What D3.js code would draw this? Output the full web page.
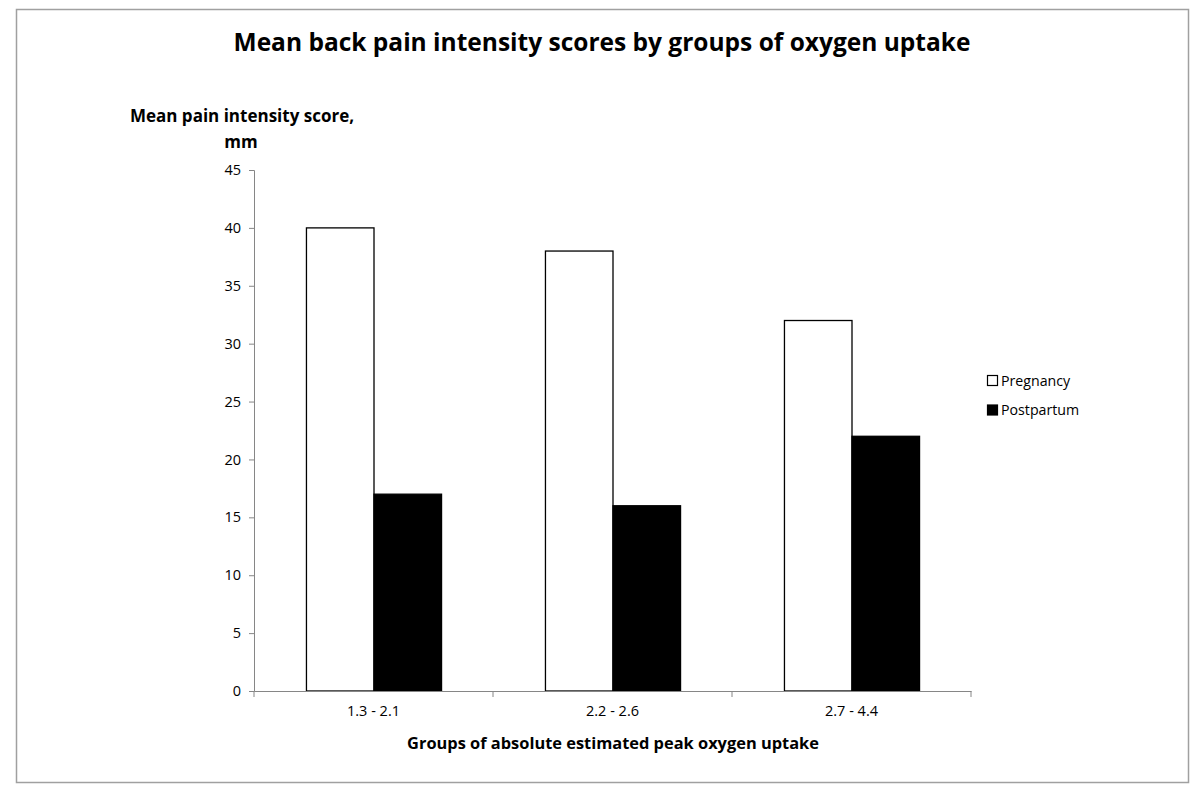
<!DOCTYPE html>
<html><head><meta charset="utf-8">
<script src="https://cdn.jsdelivr.net/npm/d3@7"></script>
<style>body{margin:0;background:#fff;} text{font-family:"Open Sans","Liberation Sans",sans-serif;}</style>
</head><body>
<svg id="c" width="1200" height="796"></svg>
<script>
const categories = ["1.3 - 2.1", "2.2 - 2.6", "2.7 - 4.4"];
const seriesNames = ["Pregnancy", "Postpartum"];
const pregnancy = [40, 38, 32];
const postpartum = [17, 16, 22];
const yTicks = [0, 5, 10, 15, 20, 25, 30, 35, 40, 45];

const svg = d3.select("#c");
svg.append("rect").attr("x",16.5).attr("y",9.5).attr("width",1172).attr("height",773)
  .attr("fill","#fff").attr("stroke","#a0a0a0").attr("stroke-width",1.5);

const x = d3.scaleBand().domain(categories).range([254, 971]).paddingInner(0).paddingOuter(0);
const xs = d3.scaleBand().domain(seriesNames).range([0, x.bandwidth()]).paddingInner(0).paddingOuter(0.7692);
const y = d3.scaleLinear().domain([0, 45]).range([691, 170]);
const fills = {Pregnancy:"#fff", Postpartum:"#000"};

const data = categories.map((c,i)=>({cat:c, vals:[{s:"Pregnancy",v:pregnancy[i]},{s:"Postpartum",v:postpartum[i]}]}));

svg.append("text").attr("x",602).attr("y",51).attr("text-anchor","middle")
  .attr("font-size",24.5).attr("font-weight","bold").text("Mean back pain intensity scores by groups of oxygen uptake");

// y axis
const yAxis = svg.append("g").attr("transform","translate(254,0)")
  .call(d3.axisLeft(y).tickValues(yTicks).tickSize(5).tickPadding(8));
yAxis.selectAll("path,line").attr("stroke","#868686");
yAxis.selectAll("text").attr("font-size",14.5).attr("fill","#000").style("font-family","'Open Sans',sans-serif");

// bars
const g = svg.append("g");
data.forEach(d=>{
  g.selectAll(null).data(d.vals).enter().append("rect")
    .attr("x",v=>x(d.cat)+xs(v.s)+0.5)
    .attr("y",v=>y(v.v))
    .attr("width",xs.bandwidth())
    .attr("height",v=>y(0)-y(v.v))
    .attr("fill",v=>fills[v.s]).attr("stroke","#000").attr("stroke-width",1.3);
});

// x axis
const xAxis = svg.append("g").attr("transform","translate(0,691)")
  .call(d3.axisBottom(x).tickSize(0).tickPadding(15));
xAxis.select("path").attr("stroke","#868686");
xAxis.selectAll("text").attr("font-size",14.5).attr("fill","#000").style("font-family","'Open Sans',sans-serif");
const edges = categories.map(c=>x(c)).concat([x(categories[categories.length-1])+x.bandwidth()]);
svg.append("g").selectAll("line").data(edges).enter().append("line")
  .attr("x1",d=>d).attr("x2",d=>d).attr("y1",691).attr("y2",697).attr("stroke","#868686");

// axis titles
svg.append("text").attr("x",242).attr("y",122).attr("text-anchor","middle")
  .attr("font-size",17).attr("font-weight","bold").text("Mean pain intensity score,");
svg.append("text").attr("x",241).attr("y",148).attr("text-anchor","middle")
  .attr("font-size",17).attr("font-weight","bold").text("mm");
svg.append("text").attr("x",613).attr("y",749).attr("text-anchor","middle")
  .attr("font-size",16.4).attr("font-weight","bold").text("Groups of absolute estimated peak oxygen uptake");

// legend
const lg = svg.append("g");
seriesNames.forEach((s,i)=>{
  const yy = 375 + i*29.5;
  lg.append("rect").attr("x",987.5).attr("y",yy+0.5).attr("width",10).attr("height",10)
    .attr("fill",fills[s]).attr("stroke","#000").attr("stroke-width",1.2);
  lg.append("text").attr("x",1001).attr("y",yy+10.5).attr("font-size",14.2).text(s);
});
</script>
</body></html>
